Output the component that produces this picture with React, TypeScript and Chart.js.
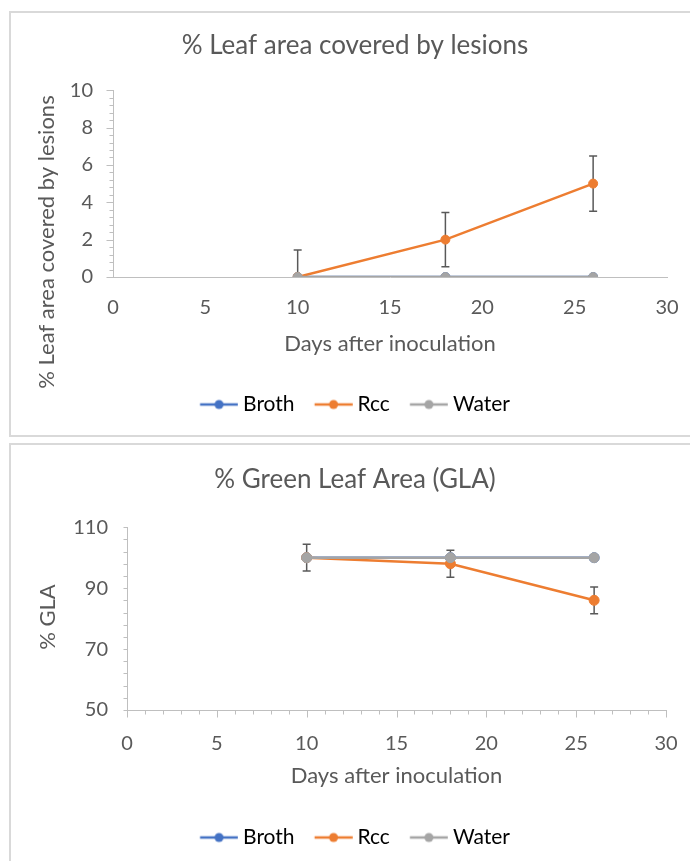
import React, { useEffect, useRef } from 'react';
import { Chart, registerables } from 'chart.js';
Chart.register(...registerables);

// ---------- data ----------
const days = [10, 18, 26];
const seriesNames = ['Broth', 'Rcc', 'Water'];
const seriesColors = ['#4472C4', '#ED7D31', '#A5A5A5'];

const lesionBroth = [0, 0, 0];
const lesionRcc = [0, 2, 5];
const lesionWater = [0, 0, 0];
const lesionRccErr = [1.45, 1.45, 1.48];

const glaBroth = [100, 100, 100];
const glaRcc = [100, 98, 86];
const glaWater = [100, 100, 100];
const glaRccErr = [4.4, 4.4, 4.4];

const xTicks = { min: 0, max: 30, step: 5, minor: 1 };
const lesionTicks = { min: 0, max: 10, step: 2, minor: 0.4 };
const glaTicks = { min: 50, max: 110, step: 20, minor: 4 };

const lesionTitle = '% Leaf area covered by lesions';
const lesionYTitle = '% Leaf area covered by lesions';
const glaTitle = '% Green Leaf Area (GLA)';
const glaYTitle = '% GLA';
const xTitle = 'Days after inoculation';

// ---------- styles ----------
const FONT = 'Lato, "Open Sans", sans-serif';
const TEXT = '#595959';
const AXIS = '#bfbfbf';

type Layout = {
  plotLeft: number; padRight: number; titlePadTop: number; titlePadBottom: number;
  xHeight: number; xTickPad: number; xTitlePadBottom: number; yTickPad: number; padBottom: number;
  yTitleX: number; yTitleY: number; pointRadius: number;
};

type TickSpec = { axis: 'x' | 'y'; min: number; max: number; major: number; minor: number };

function legendMarker(color: string): HTMLCanvasElement {
  const c = document.createElement('canvas');
  c.width = 44; c.height = 14;
  const g = c.getContext('2d')!;
  g.strokeStyle = color; g.lineWidth = 2.5;
  g.beginPath(); g.moveTo(5.75, 7); g.lineTo(43.75, 7); g.stroke();
  g.fillStyle = color;
  g.beginPath(); g.arc(24.75, 7, 4.5, 0, Math.PI * 2); g.fill();
  return c;
}

function errorBarsPlugin(datasetIndex: number, errors: number[]) {
  return {
    id: 'errorBars',
    beforeDatasetsDraw(chart: any) {
      const xs = chart.scales.x, ys = chart.scales.y, a = chart.chartArea, ctx = chart.ctx;
      const pts = chart.data.datasets[datasetIndex].data as { x: number; y: number }[];
      ctx.save();
      ctx.beginPath(); ctx.rect(a.left, a.top - 1, a.right - a.left, a.bottom - a.top + 1); ctx.clip();
      ctx.strokeStyle = '#595959'; ctx.lineWidth = 1.5;
      pts.forEach((p, i) => {
        const x = xs.getPixelForValue(p.x);
        const y1 = ys.getPixelForValue(p.y + errors[i]);
        const y2 = ys.getPixelForValue(p.y - errors[i]);
        ctx.beginPath();
        ctx.moveTo(x, y1); ctx.lineTo(x, y2);
        ctx.moveTo(x - 4, y1); ctx.lineTo(x + 4, y1);
        ctx.moveTo(x - 4, y2); ctx.lineTo(x + 4, y2);
        ctx.stroke();
      });
      ctx.restore();
    },
  };
}

function tickMarksPlugin(specs: TickSpec[]) {
  return {
    id: 'tickMarks',
    afterDraw(chart: any) {
      const ctx = chart.ctx, a = chart.chartArea;
      ctx.save();
      ctx.strokeStyle = AXIS; ctx.lineWidth = 1;
      specs.forEach((s) => {
        const sc = chart.scales[s.axis];
        const n = Math.round((s.max - s.min) / s.minor);
        for (let i = 0; i <= n; i++) {
          const v = s.min + i * s.minor;
          const r = v / s.major;
          const isMajor = Math.abs(r - Math.round(r)) < 1e-6;
          const len = isMajor ? 7 : 4;
          const p = Math.round(sc.getPixelForValue(v)) + 0.5;
          ctx.beginPath();
          if (s.axis === 'y') {
            const x0 = Math.round(a.left) + 0.5;
            ctx.moveTo(x0 - len, p); ctx.lineTo(x0, p);
          } else {
            const y0 = Math.round(a.bottom) + 0.5;
            ctx.moveTo(p, y0); ctx.lineTo(p, y0 + len);
          }
          ctx.stroke();
        }
      });
      ctx.restore();
    },
  };
}

function yTitlePlugin(text: string, x: number, y: number) {
  return {
    id: 'yTitle',
    afterDraw(chart: any) {
      const ctx = chart.ctx;
      ctx.save();
      ctx.translate(x, y);
      ctx.rotate(-Math.PI / 2);
      ctx.font = `22px ${FONT}`;
      ctx.fillStyle = TEXT;
      ctx.textAlign = 'center';
      ctx.textBaseline = 'middle';
      ctx.fillText(text, 0, 0);
      ctx.restore();
    },
  };
}

function makeChart(
  canvas: HTMLCanvasElement,
  title: string,
  yTitle: string,
  series: number[][],
  errIndex: number,
  errors: number[],
  yTicks: { min: number; max: number; step: number; minor: number },
  tickSpecs: TickSpec[],
  L: Layout,
) {
  const markers = seriesColors.map(legendMarker);
  const datasets = series.map((vals, i) => ({
    label: seriesNames[i],
    data: days.map((d, j) => ({ x: d, y: vals[j] })),
    borderColor: seriesColors[i],
    backgroundColor: seriesColors[i],
    pointBackgroundColor: seriesColors[i],
    pointBorderColor: seriesColors[i],
    borderWidth: 2.5,
    pointRadius: L.pointRadius,
    pointHoverRadius: L.pointRadius,
    pointBorderWidth: 1,
    tension: 0,
    order: series.length - 1 - i,
  }));
  return new Chart(canvas, {
    type: 'line',
    data: { datasets },
    options: {
      responsive: false,
      maintainAspectRatio: false,
      animation: false,
      events: [],
      layout: { padding: { left: 0, right: 0, top: 0, bottom: L.padBottom } },
      scales: {
        x: {
          type: 'linear',
          min: xTicks.min,
          max: xTicks.max,
          afterFit: (s: any) => { s.height = L.xHeight; },
          ticks: { stepSize: xTicks.step, padding: L.xTickPad, color: TEXT, font: { family: FONT, size: 20 } },
          grid: { display: false, drawTicks: false },
          border: { display: true, color: AXIS, width: 1 },
          title: {
            display: true, text: xTitle, color: TEXT,
            font: { family: FONT, size: 22 },
            padding: { top: 0, bottom: L.xTitlePadBottom },
          },
        },
        y: {
          type: 'linear',
          min: yTicks.min,
          max: yTicks.max,
          afterFit: (s: any) => { s.width = L.plotLeft; },
          ticks: { stepSize: yTicks.step, padding: L.yTickPad, color: TEXT, font: { family: FONT, size: 20 } },
          grid: { display: false, drawTicks: false },
          border: { display: true, color: AXIS, width: 1 },
        },
        // empty spacer on the right so title & legend stay centred on the whole chart
        yRight: {
          type: 'linear',
          position: 'right',
          display: true,
          afterFit: (s: any) => { s.width = L.padRight; },
          ticks: { display: false },
          grid: { display: false, drawTicks: false },
          border: { display: false },
        },
      },
      plugins: {
        tooltip: { enabled: false },
        title: {
          display: true, text: title, color: TEXT,
          font: { family: FONT, size: 26, weight: 'normal' },
          padding: { top: L.titlePadTop, bottom: L.titlePadBottom },
        },
        legend: {
          position: 'bottom',
          align: 'center',
          labels: {
            usePointStyle: true,
            pointStyleWidth: 32.5,
            padding: 20,
            color: TEXT,
            font: { family: FONT, size: 21 },
            generateLabels: () =>
              seriesNames.map((n, i) => ({
                text: n,
                pointStyle: markers[i],
                fillStyle: seriesColors[i],
                strokeStyle: seriesColors[i],
                lineWidth: 0,
                hidden: false,
                datasetIndex: i,
              })),
          },
        },
      },
    } as any,
    plugins: [errorBarsPlugin(errIndex, errors), tickMarksPlugin(tickSpecs), yTitlePlugin(yTitle, L.yTitleX, L.yTitleY)],
  });
}

export default function App() {
  const ref1 = useRef<HTMLCanvasElement>(null);
  const ref2 = useRef<HTMLCanvasElement>(null);

  useEffect(() => {
    document.body.style.margin = '0';
    const c1 = makeChart(
      ref1.current!, lesionTitle, lesionYTitle,
      [lesionBroth, lesionRcc, lesionWater], 1, lesionRccErr, lesionTicks,
      [{ axis: 'y', min: lesionTicks.min, max: lesionTicks.max, major: lesionTicks.step, minor: lesionTicks.minor }],
      {
        plotLeft: 103, padRight: 33, titlePadTop: 18, titlePadBottom: 29,
        xHeight: 97, xTickPad: 19, xTitlePadBottom: 17, yTickPad: 20, padBottom: 10,
        yTitleX: 37, yTitleY: 230, pointRadius: 4.5,
      },
    );
    const c2 = makeChart(
      ref2.current!, glaTitle, glaYTitle,
      [glaBroth, glaRcc, glaWater], 1, glaRccErr, glaTicks,
      [
        { axis: 'y', min: glaTicks.min, max: glaTicks.max, major: glaTicks.step, minor: glaTicks.minor },
        { axis: 'x', min: xTicks.min, max: xTicks.max, major: xTicks.step, minor: xTicks.minor },
      ],
      {
        plotLeft: 117, padRight: 34, titlePadTop: 20, titlePadBottom: 32,
        xHeight: 97, xTickPad: 22, xTitlePadBottom: 18, yTickPad: 19, padBottom: 9,
        yTitleX: 38, yTitleY: 173, pointRadius: 5,
      },
    );
    return () => { c1.destroy(); c2.destroy(); };
  }, []);

  const box: React.CSSProperties = { position: 'absolute', border: '2px solid #d9d9d9', boxSizing: 'border-box' };
  return (
    <div style={{ position: 'relative', width: 690, height: 861, overflow: 'hidden', background: '#fff' }}>
      <div style={{ ...box, left: 9, top: 11, width: 720, height: 426 }} />
      <div style={{ ...box, left: 9, top: 443, width: 720, height: 440 }} />
      <canvas ref={ref1} width={690} height={423} style={{ position: 'absolute', left: 10, top: 12, width: 690, height: 423 }} />
      <canvas ref={ref2} width={690} height={423} style={{ position: 'absolute', left: 10, top: 444, width: 690, height: 423 }} />
    </div>
  );
}
